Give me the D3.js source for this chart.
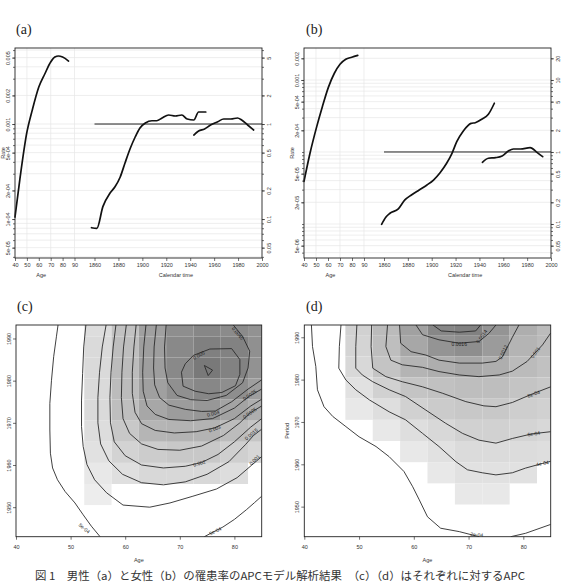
<!DOCTYPE html>
<html>
<head>
<meta charset="utf-8">
<script src="https://cdn.jsdelivr.net/npm/d3@7"></script>
<style>
  body { margin: 0; background: #fff; }
  svg { display: block; font-family: "Liberation Sans", Arial, sans-serif; }
</style>
</head>
<body>
<svg id="fig" width="561" height="582"></svg>
<script>
// ---------- panel (a) ----------
const aAge = [40, 44, 50, 54.5, 60, 65, 70, 73.5, 76.5, 80, 85];
const aAgeRate = [1.05e-4, 2.57e-4, 8.2e-4, 1.4e-3, 2.45e-3, 3.36e-3, 4.49e-3, 5.07e-3, 5.2e-3, 5.07e-3, 4.6e-3];
const aCohort = [1857.5, 1862, 1867, 1873, 1877, 1881.5, 1885.5, 1890, 1894, 1898, 1902.5, 1908, 1912, 1916.5, 1922, 1927.5, 1933, 1937.5, 1943, 1947, 1953];
const aCohortRR = [0.081, 0.0798, 0.135, 0.188, 0.217, 0.277, 0.389, 0.559, 0.73, 0.908, 1.024, 1.083, 1.083, 1.157, 1.244, 1.214, 1.244, 1.129, 1.102, 1.338, 1.338];
const aPeriod = [1943, 1947, 1952, 1957, 1963, 1968, 1974, 1979.5, 1983, 1988, 1993];
const aPeriodRR = [0.766, 0.844, 0.886, 0.976, 1.057, 1.129, 1.129, 1.157, 1.102, 0.976, 0.865];
const aRateTicks = [0.005, 0.002, 0.001, 5e-4, 2e-4, 1e-4, 5e-5];
const aRateLabels = ["0.005", "0.002", "0.001", "5e-04", "2e-04", "1e-04", "5e-05"];
const aRRTicks = [5, 2, 1, 0.5, 0.2, 0.1, 0.05];

// ---------- panel (b) ----------
const bAge = [40, 45, 50.6, 55.3, 60.3, 65.3, 70, 74.8, 79.8, 84.8];
const bAgeRate = [3.9e-5, 9.6e-5, 2.25e-4, 4.26e-4, 7.9e-4, 1.24e-3, 1.65e-3, 1.94e-3, 2.07e-3, 2.2e-3];
const bCohort = [1858, 1861.5, 1865, 1872, 1877.5, 1883, 1889.5, 1896, 1901.5, 1907, 1912.5, 1917, 1921, 1926.5, 1933, 1936.5, 1942, 1947.5, 1952.5];
const bCohortRR = [0.099, 0.124, 0.141, 0.162, 0.216, 0.253, 0.297, 0.348, 0.408, 0.515, 0.697, 0.959, 1.39, 1.96, 2.5, 2.55, 2.85, 3.34, 4.75];
const bPeriod = [1942.5, 1947.5, 1953.5, 1959, 1964.5, 1968.5, 1974.5, 1982.5, 1988.5, 1993];
const bPeriodRR = [0.72, 0.818, 0.834, 0.88, 1.04, 1.10, 1.10, 1.15, 0.98, 0.86];
const bRateTicks = [0.002, 0.001, 5e-4, 2e-4, 5e-5, 2e-5, 5e-6];
const bRateLabels = ["0.002", "0.001", "5e-04", "2e-04", "5e-05", "2e-05", "5e-06"];
const bRRTicks = [20, 10, 5, 2, 1, 0.5, 0.2, 0.1, 0.05];

const ageTicks = [40, 50, 60, 70, 80, 90];
const calTicks = [1860, 1880, 1900, 1920, 1940, 1960, 1980, 2000];

// ---------- panel (c) ----------
const cCellAges = [55, 60, 65, 70, 75, 80, 85];
const cCellPers = [1993, 1988, 1983, 1978, 1973, 1968, 1963, 1958, 1953];
const cCellRates = [
  [0.0013, 0.0025, 0.0039, 0.0047, 0.0050, 0.0048, 0.0045],
  [0.0014, 0.0026, 0.0040, 0.0049, 0.0053, 0.0052, 0.0046],
  [0.0014, 0.0027, 0.0040, 0.0049, 0.0056, 0.0052, 0.0045],
  [0.0014, 0.0027, 0.0039, 0.0046, 0.0050, 0.0047, 0.0040],
  [0.0014, 0.0026, 0.0036, 0.0041, 0.0043, 0.0038, 0.0033],
  [0.0013, 0.0022, 0.0030, 0.0031, 0.0031, 0.0027, 0.0023],
  [0.0011, 0.0017, 0.0020, 0.0022, 0.0022, 0.0019, 0.0016],
  [0.0008, 0.0012, 0.0015, 0.0015, 0.0015, 0.0013, null],
  [0.0006, null, null, null, null, null, null]
];
const cL05a = [[47.7,1993.2],[47.4,1990.4],[46.9,1985.7],[46.5,1980.1],[46.2,1974.6],[46.2,1968.3],[46.3,1962.8],[46.7,1959.3],[47.6,1956.5],[49.0,1953.7],[50.8,1951],[52.3,1948.2],[53.8,1945.5],[55.4,1943]];
const cL05b = [[85,1952.6],[83.7,1951.1],[82.2,1949.4],[80.0,1947.1],[77.9,1945.3],[76.1,1944.1],[74.5,1943]];
const cL10 = [[52.8,1993.2],[52.4,1988],[52.2,1981.7],[52.0,1975.4],[52.0,1969.1],[52.3,1964.4],[53.0,1960.1],[54.4,1956.5],[56.6,1953.4],[59.6,1950.5],[64.5,1950],[68.2,1951],[72.4,1952.6],[76.7,1954.3],[80.5,1957],[83.2,1960],[85,1962]];
const cL15 = [[56.5,1993.2],[55.8,1988],[55.3,1982],[55,1976],[55,1970],[55.5,1965],[57,1961],[59.5,1957.8],[63,1955.8],[67,1955.3],[71,1956],[75,1957.8],[79,1960.8],[82,1964.8],[83.5,1967],[85,1968.5]];
const cL20 = [[58.3,1993.2],[57.8,1988],[57.4,1982],[57.2,1976],[57.3,1970],[58,1965.5],[60,1962.2],[63,1960],[67,1959.3],[71,1959.7],[74,1960.6],[77,1962.5],[80,1965.5],[83,1969],[85,1971]];
const cL25 = [[60.2,1993.2],[59.7,1988],[59.4,1982],[59.3,1976],[59.6,1971],[60.8,1967.5],[63,1965],[66,1963.7],[70,1963.5],[74,1964.5],[78,1967],[81,1970],[82.8,1972.3],[85,1974]];
const cL30 = [[62,1993.2],[61.6,1988],[61.3,1982],[61.3,1977],[61.8,1972.5],[63,1969.8],[65.5,1968.2],[69,1967.6],[73,1967.9],[76.4,1968.8],[80,1971],[83,1974],[85,1975.6]];
const cL35 = [[63.8,1993.2],[63.4,1988],[63.2,1982],[63.3,1977.5],[64,1974],[65.5,1972],[68,1970.8],[72,1970.5],[76,1971],[80,1973.5],[82.8,1976.4],[85,1978]];
const cL40 = [[65.7,1993.2],[65.3,1988],[65.2,1983],[65.4,1979],[66.3,1976],[68,1974.2],[71,1973.2],[74,1972.7],[76.5,1972.8],[79.5,1975],[82.5,1978],[85,1980.2]];
const cL45 = [[67.5,1993.2],[67.2,1988],[67.3,1983],[67.8,1979.5],[69.5,1976.5],[72,1975.5],[75,1975.3],[78.5,1976.5],[81.5,1979.5],[82.5,1983],[82.8,1987],[81.5,1990.5],[79.8,1993.2]];
const cL50 = [[70.3,1982],[71,1984],[72.5,1986],[75.5,1987.5],[79.5,1987.6],[81,1985],[81,1981.5],[80.2,1978.8],[77.7,1977.2],[75.3,1976.9],[72.8,1977.5],[70.6,1978.7],[70.3,1982]];
const cL55 = [[74.5,1983.6],[76,1982.5],[75.2,1981.2],[74.5,1983.6]];
const cLines = [cL05a, cL05b, cL10, cL15, cL20, cL25, cL30, cL35, cL40, cL45, cL50, cL55];
const cLabels = [
  ["0.0045", 80.6, 1991.2, 50], ["0.005", 73.5, 1986, -30], ["0.0035", 82.8, 1976.6, -35],
  ["0.004", 76.1, 1972.2, -15], ["0.0025", 82.8, 1972.3, -35], ["0.003", 76.4, 1968.6, -20],
  ["0.0015", 83.1, 1967.3, -40], ["0.002", 73.6, 1960.4, -15], ["0.001", 83.7, 1961.2, -45],
  ["5e-04", 52.5, 1945, 40], ["5e-04", 76.5, 1944.3, -25]
];

// ---------- panel (d) ----------
const dCellAges = [50, 55, 60, 65, 70, 75, 80, 85];
const dCellPers = [1993, 1988, 1983, 1978, 1973, 1968, 1963, 1958, 1953];
const dCellRates = [
  [0.00065, 0.0010, 0.0014, 0.0018, 0.0019, 0.0016, 0.0012, 0.0010],
  [0.00060, 0.00095, 0.0013, 0.0016, 0.0017, 0.0015, 0.0011, 0.0010],
  [0.00055, 0.00085, 0.0011, 0.0012, 0.0013, 0.0012, 0.0010, 0.0009],
  [0.00040, 0.00065, 0.00085, 0.0009, 0.00095, 0.00095, 0.00085, 0.0008],
  [0.00030, 0.00045, 0.00065, 0.00075, 0.0008, 0.0008, 0.0007, 0.00065],
  [null, 0.0003, 0.00045, 0.00055, 0.00065, 0.00065, 0.0006, 0.00055],
  [null, null, 0.0003, 0.0004, 0.0005, 0.0005, 0.00048, 0.00045],
  [null, null, null, 0.0003, 0.0004, 0.0004, 0.0004, null],
  [null, null, null, null, 0.0003, 0.0003, null, null]
];
const dL02a = [[41.3,1992.9],[41.5,1987.8],[42.1,1983.1],[42.4,1977.6],[43.6,1973.6],[45.2,1971.3],[47.6,1968.9],[50.0,1966.5],[53.1,1964.2],[55.5,1961.8],[58.2,1958.3],[59.8,1954.7],[61.0,1951.6],[62.5,1947.6],[64.9,1944.9],[68.3,1944.1],[70.7,1943.3],[71.9,1942.9]];
const dL02b = [[77.7,1942.9],[80.4,1943.7],[85,1945.8]];
const dL04 = [[46.7,1992.9],[46.4,1987.8],[46.3,1982.7],[47.6,1979.9],[49.4,1977.6],[51.9,1975.2],[55.5,1972.4],[58.5,1970.5],[61.6,1967.3],[64.6,1964.2],[67.7,1960.6],[69.8,1958.7],[72.5,1958.0],[75.0,1957.5],[78.0,1958.0],[80.4,1959.1],[83.5,1960.2],[85,1960.7]];
const dL06 = [[49.6,1992.9],[49.4,1987.8],[49.4,1982.7],[50.6,1981.1],[52.5,1979.5],[55.5,1977.6],[58.5,1976.0],[62.2,1972.8],[65.8,1969.7],[68.9,1967.3],[71.9,1965.7],[75.0,1965.0],[78.0,1966.1],[81.6,1967.2],[85,1967.7]];
const dL08 = [[52.3,1992.9],[52.2,1987.8],[52.5,1982.7],[54.9,1980.7],[57.9,1979.5],[61.6,1978.3],[65.2,1976.8],[69.5,1974.8],[72.8,1973.8],[75.0,1973.6],[78.0,1974.6],[81.6,1976.6],[85,1978.3]];
const dL10 = [[55.2,1992.9],[54.9,1987.8],[55.8,1984.6],[57.9,1983.5],[61.6,1982.9],[64.6,1981.9],[68.3,1981.1],[71.9,1980.7],[75.6,1981.1],[78.0,1982.0],[80.7,1984.3],[83.5,1988.2],[85,1991]];
const dL12 = [[57.4,1992.9],[57.6,1988.6],[59.5,1986.6],[62.2,1985.8],[64.6,1984.6],[68.3,1983.9],[72.5,1983.9],[75.0,1984.3],[76.2,1985.4],[78.0,1990.0],[79.2,1992.9]];
const dL14 = [[60.4,1992.9],[61.6,1990.6],[64.6,1989.4],[68.3,1988.6],[71.9,1989.0],[73.7,1990.9],[75.0,1992.9]];
const dL16 = [[63.5,1992.9],[65,1991.5],[68.3,1991.2],[71.3,1991.5],[72.2,1992.9]];
const dLines = [dL02a, dL02b, dL04, dL06, dL08, dL10, dL12, dL14, dL16];
const dLabels = [
  ["0.0016", 68.3, 1988.3, 0], ["0.0014", 72.4, 1990.2, -55], ["0.0012", 76.3, 1986.5, -65],
  ["0.001", 82.2, 1986.4, -55], ["8e-04", 81.9, 1976.6, -20], ["6e-04", 81.9, 1967.2, -8],
  ["4e-04", 83.5, 1960.2, -10], ["2e-04", 71.5, 1943.4, 5]
];
const contourAgeTicks = [40, 50, 60, 70, 80];
const contourPerTicks = [1950, 1960, 1970, 1980, 1990];

const caption = "図 1　男性（a）と女性（b）の罹患率のAPCモデル解析結果　（c）（d）はそれぞれに対するAPC";

const svg = d3.select("#fig");
const tickFont = 5.5;
const serif = "'Liberation Serif', 'DejaVu Serif', serif";

function minorTicks(lo, hi) {
  const out = [];
  for (let e = -7; e <= 2; e++) {
    for (let m = 1; m <= 9; m++) {
      const v = m * Math.pow(10, e);
      if (v >= lo && v <= hi) out.push(v);
    }
  }
  return out;
}

function styleAxis(g) {
  g.select(".domain").remove();
  g.selectAll(".tick line").attr("stroke", "#333").attr("stroke-width", 0.7);
  g.selectAll("text").attr("font-size", tickFont).attr("fill", "#333")
    .style("font-family", "'Liberation Sans', Arial, sans-serif");
}

function drawApc(p) {
  const g = svg.append("g");
  const xAge = d3.scaleLinear().domain([40, 90]).range([p.x0, p.xa]);
  const xCal = d3.scaleLinear().domain([1860, 2000]).range([p.xc, p.x1]);
  const yRR = d3.scaleLog().domain(p.rr).range([p.y1, p.y0]);
  const yRate = d3.scaleLog().domain(p.rr.map(v => v * p.ref)).range([p.y1, p.y0]);

  // grid
  g.selectAll(".hgrid").data(minorTicks(p.rr[0], p.rr[1])).join("line")
    .attr("x1", p.x0).attr("x2", p.x1)
    .attr("y1", d => yRR(d)).attr("y2", d => yRR(d))
    .attr("stroke", "#e6e6e6").attr("stroke-width", 0.7);
  g.selectAll(".vgrid").data([50, 70, 90]).join("line")
    .attr("x1", d => xAge(d)).attr("x2", d => xAge(d))
    .attr("y1", p.y0).attr("y2", p.y1)
    .attr("stroke", "#e6e6e6").attr("stroke-width", 0.7);

  // reference line RR = 1
  g.append("line")
    .attr("x1", xCal(1860)).attr("x2", xCal(2000))
    .attr("y1", yRR(1)).attr("y2", yRR(1))
    .attr("stroke", "#222").attr("stroke-width", 1);

  const curve = (xs, ys, xsc, ysc) => g.append("path")
    .datum(d3.zip(xs, ys))
    .attr("fill", "none").attr("stroke", "#111").attr("stroke-width", 1.7)
    .attr("stroke-linejoin", "round").attr("stroke-linecap", "round")
    .attr("d", d3.line().curve(d3.curveMonotoneX).x(d => xsc(d[0])).y(d => ysc(d[1])));
  curve(p.age, p.ageRate, xAge, yRate);
  curve(p.cohort, p.cohortRR, xCal, yRR);
  curve(p.period, p.periodRR, xCal, yRR);

  // axes
  const left = g.append("g").attr("transform", `translate(${p.x0},0)`)
    .call(d3.axisLeft(yRate).tickValues(p.rateTicks).tickFormat((d, i) => p.rateLabels[i]).tickSize(3));
  styleAxis(left);
  left.selectAll("text").attr("x", null).attr("dy", null)
    .attr("transform", "rotate(-90)").attr("y", -5).attr("text-anchor", "middle");
  const leftMinor = g.append("g").attr("transform", `translate(${p.x0},0)`)
    .call(d3.axisLeft(yRR).tickValues(minorTicks(p.rr[0], p.rr[1])).tickFormat("").tickSize(2));
  styleAxis(leftMinor);

  const right = g.append("g").attr("transform", `translate(${p.x1},0)`)
    .call(d3.axisRight(yRR).tickValues(p.rrTicks).tickFormat(d3.format("~g")).tickSize(3));
  styleAxis(right);
  right.selectAll("text").attr("x", null).attr("dy", null)
    .attr("transform", "rotate(-90)").attr("y", 9).attr("text-anchor", "middle");
  const rightMinor = g.append("g").attr("transform", `translate(${p.x1},0)`)
    .call(d3.axisRight(yRR).tickValues(minorTicks(p.rr[0], p.rr[1])).tickFormat("").tickSize(2));
  styleAxis(rightMinor);

  const bAgeAx = g.append("g").attr("transform", `translate(0,${p.y1})`)
    .call(d3.axisBottom(xAge).tickValues(ageTicks).tickSize(3).tickPadding(2));
  styleAxis(bAgeAx);
  const bCalAx = g.append("g").attr("transform", `translate(0,${p.y1})`)
    .call(d3.axisBottom(xCal).tickValues(calTicks).tickFormat(d3.format("d")).tickSize(3).tickPadding(2));
  styleAxis(bCalAx);

  g.append("rect").attr("x", p.x0).attr("y", p.y0)
    .attr("width", p.x1 - p.x0).attr("height", p.y1 - p.y0)
    .attr("fill", "none").attr("stroke", "#222").attr("stroke-width", 0.9);

  g.append("text").attr("x", xAge(62)).attr("y", p.y1 + 19)
    .attr("font-size", tickFont).attr("text-anchor", "middle").attr("fill", "#333").text("Age");
  g.append("text").attr("x", xCal(1928)).attr("y", p.y1 + 19)
    .attr("font-size", tickFont).attr("text-anchor", "middle").attr("fill", "#333").text("Calendar time");
  g.append("text").attr("transform", `translate(${p.x0 - 10},153) rotate(-90)`)
    .attr("font-size", tickFont).attr("text-anchor", "middle").attr("fill", "#333").text("Rate");

  g.append("text").attr("x", p.lx).attr("y", p.ly)
    .style("font-family", serif).attr("font-size", 14)
    .attr("fill", "#222").text(p.label);
}

drawApc({
  label: "(a)", lx: 16, ly: 34,
  x0: 15, xa: 74.5, xc: 94.5, x1: 262, y0: 48, y1: 258,
  rr: [0.0389, 6.31], ref: 0.001,
  age: aAge, ageRate: aAgeRate, cohort: aCohort, cohortRR: aCohortRR,
  period: aPeriod, periodRR: aPeriodRR,
  rateTicks: aRateTicks, rateLabels: aRateLabels, rrTicks: aRRTicks
});
drawApc({
  label: "(b)", lx: 306, ly: 34,
  x0: 304, xa: 364, xc: 384, x1: 551, y0: 48, y1: 258,
  rr: [0.0337, 27.8], ref: 1e-4,
  age: bAge, ageRate: bAgeRate, cohort: bCohort, cohortRR: bCohortRR,
  period: bPeriod, periodRR: bPeriodRR,
  rateTicks: bRateTicks, rateLabels: bRateLabels, rrTicks: bRRTicks
});

function drawContour(p) {
  const g = svg.append("g");
  const x = d3.scaleLinear().domain([40, 85]).range([p.x0, p.x1]);
  const y = d3.scaleLinear().domain(p.per).range([p.y1, p.y0]);
  const grey = d3.scaleLinear().domain([0, p.maxRate]).range(["#fbfbfb", "#747474"]);
  const clipId = "clip" + p.label.replace(/\W/g, "");
  g.append("clipPath").attr("id", clipId).append("rect")
    .attr("x", p.x0).attr("y", p.y0).attr("width", p.x1 - p.x0).attr("height", p.y1 - p.y0);
  const inner = g.append("g").attr("clip-path", `url(#${clipId})`);

  const cells = [];
  p.cellPers.forEach((per, i) => p.cellAges.forEach((age, j) => {
    const v = p.cellRates[i][j];
    if (v != null) cells.push({ age, per, v });
  }));
  inner.selectAll("rect.cell").data(cells).join("rect")
    .attr("x", d => x(d.age - 2.5)).attr("y", d => y(d.per + 2.5))
    .attr("width", d => x(d.age + 2.5) - x(d.age - 2.5))
    .attr("height", d => y(d.per - 2.5) - y(d.per + 2.5))
    .attr("fill", d => grey(d.v));

  const line = d3.line().x(d => x(d[0])).y(d => y(d[1]));
  inner.selectAll("path.cl").data(p.lines).join("path")
    .attr("d", line).attr("fill", "none")
    .attr("stroke", "#2a2a2a").attr("stroke-width", 0.9).attr("stroke-linejoin", "round");

  inner.selectAll("text.cl").data(p.labels).join("text")
    .attr("transform", d => `translate(${x(d[1])},${y(d[2])}) rotate(${d[3]})`)
    .attr("font-size", 5).attr("text-anchor", "middle").attr("dy", "0.35em")
    .attr("fill", "#222").text(d => d[0]);

  const bx = g.append("g").attr("transform", `translate(0,${p.y1})`)
    .call(d3.axisBottom(x).tickValues(contourAgeTicks).tickSize(3).tickPadding(5));
  styleAxis(bx);
  const ly = g.append("g").attr("transform", `translate(${p.x0},0)`)
    .call(d3.axisLeft(y).tickValues(contourPerTicks).tickFormat(d3.format("d")).tickSize(3));
  styleAxis(ly);
  ly.selectAll("text").attr("x", null).attr("dy", null)
    .attr("transform", "rotate(-90)").attr("y", -5).attr("text-anchor", "middle");

  g.append("rect").attr("x", p.x0).attr("y", p.y0)
    .attr("width", p.x1 - p.x0).attr("height", p.y1 - p.y0)
    .attr("fill", "none").attr("stroke", "#222").attr("stroke-width", 0.9);

  g.append("text").attr("x", (p.x0 + p.x1) / 2).attr("y", p.y1 + 25)
    .attr("font-size", tickFont).attr("text-anchor", "middle").attr("fill", "#333").text("Age");
  if (p.ylab) {
    g.append("text").attr("transform", `translate(${p.x0 - 15},${(p.y0 + p.y1) / 2}) rotate(-90)`)
      .attr("font-size", tickFont).attr("text-anchor", "middle").attr("fill", "#333").text(p.ylab);
  }
  g.append("text").attr("x", p.lx).attr("y", p.ly)
    .style("font-family", serif).attr("font-size", 14)
    .attr("fill", "#222").text(p.label);
}

drawContour({
  label: "(c)", lx: 17, ly: 311, ylab: null,
  x0: 16, x1: 261.7, y0: 325, y1: 536.7, per: [1943, 1993.2],
  cellAges: cCellAges, cellPers: cCellPers, cellRates: cCellRates, maxRate: 0.0058,
  lines: cLines, labels: cLabels
});
drawContour({
  label: "(d)", lx: 306, ly: 311, ylab: "Period",
  x0: 304.3, x1: 550.7, y0: 325, y1: 536.7, per: [1942.9, 1992.9],
  cellAges: dCellAges, cellPers: dCellPers, cellRates: dCellRates, maxRate: 0.0021,
  lines: dLines, labels: dLabels
});

svg.append("text").attr("x", 35).attr("y", 580)
  .style("font-family", "'Noto Sans CJK JP', sans-serif").attr("font-size", 11)
  .attr("textLength", 490).attr("lengthAdjust", "spacingAndGlyphs")
  .attr("fill", "#333").text(caption);
</script>
</body>
</html>
